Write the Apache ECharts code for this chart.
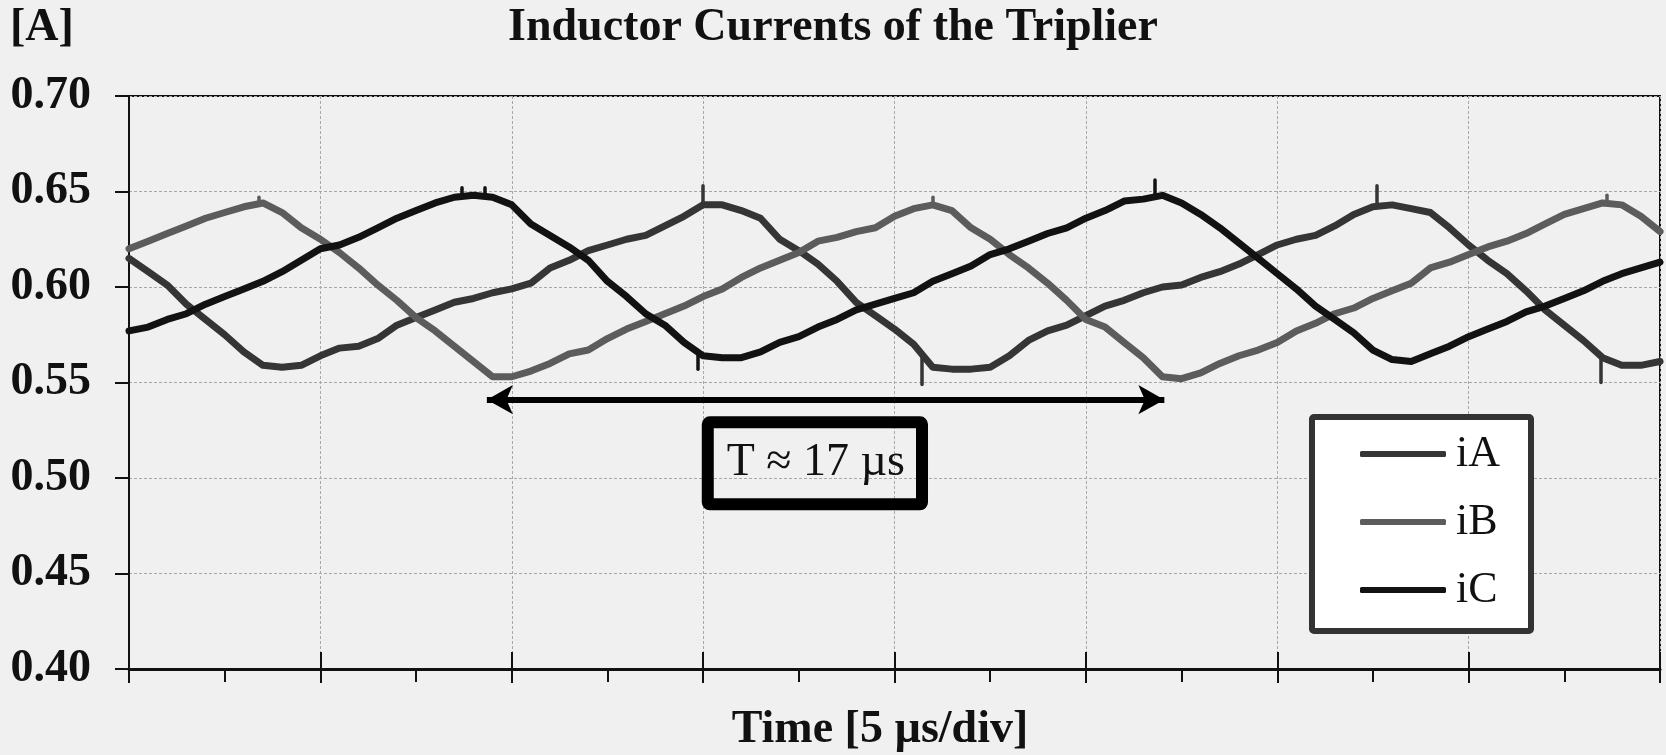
<!DOCTYPE html>
<html><head><meta charset="utf-8">
<script src="https://cdn.jsdelivr.net/npm/echarts@6/dist/echarts.min.js"></script>
<style>html,body{margin:0;padding:0;background:#f0f0f0;}#c{width:1666px;height:755px;}</style>
</head><body><div id="c"></div>
<script>
const chartTitle = 'Inductor Currents of the Triplier';
const yUnit = '[A]';
const xTitle = 'Time [5 µs/div]';
const periodLabel = 'T ≈ 17 µs';
const seriesNames = ['iA', 'iB', 'iC'];
const seriesColors = ['#353535', '#5c5c5c', '#121212'];
// time in µs (5 µs per division, 8 divisions)
const time = [0,0.5,1,1.5,2,2.5,3,3.5,4,4.5,5,5.5,6,6.5,7,7.5,8,8.5,9,9.5,10,10.5,11,11.5,12,12.5,13,13.5,14,14.5,15,15.5,16,16.5,17,17.5,18,18.5,19,19.5,20,20.5,21,21.5,22,22.5,23,23.5,24,24.5,25,25.5,26,26.5,27,27.5,28,28.5,29,29.5,30,30.5,31,31.5,32,32.5,33,33.5,34,34.5,35,35.5,36,36.5,37,37.5,38,38.5,39,39.5,40];
const iA = [0.615,0.608,0.601,0.591,0.583,0.575,0.566,0.559,0.558,0.559,0.564,0.568,0.569,0.573,0.580,0.584,0.588,0.592,0.594,0.597,0.599,0.602,0.610,0.614,0.619,0.622,0.625,0.627,0.632,0.637,0.643,0.643,0.640,0.636,0.625,0.619,0.612,0.603,0.592,0.585,0.578,0.570,0.558,0.557,0.557,0.558,0.564,0.572,0.577,0.580,0.585,0.590,0.593,0.597,0.600,0.601,0.605,0.608,0.612,0.617,0.622,0.625,0.627,0.632,0.638,0.642,0.643,0.641,0.639,0.631,0.622,0.614,0.607,0.598,0.588,0.580,0.572,0.563,0.559,0.559,0.561];
const iB = [0.620,0.624,0.628,0.632,0.636,0.639,0.642,0.644,0.639,0.631,0.625,0.618,0.610,0.601,0.593,0.584,0.577,0.569,0.561,0.553,0.553,0.556,0.560,0.565,0.567,0.573,0.578,0.582,0.586,0.590,0.595,0.599,0.605,0.610,0.614,0.618,0.624,0.626,0.629,0.631,0.637,0.641,0.643,0.640,0.631,0.625,0.617,0.610,0.602,0.593,0.583,0.579,0.571,0.563,0.553,0.552,0.555,0.560,0.564,0.567,0.571,0.577,0.581,0.586,0.589,0.594,0.598,0.602,0.610,0.613,0.617,0.621,0.624,0.628,0.633,0.638,0.641,0.644,0.643,0.637,0.629];
const iC = [0.577,0.579,0.583,0.586,0.591,0.595,0.599,0.603,0.608,0.614,0.620,0.622,0.626,0.631,0.636,0.640,0.644,0.647,0.648,0.647,0.643,0.633,0.627,0.621,0.614,0.603,0.595,0.586,0.580,0.571,0.564,0.563,0.563,0.566,0.571,0.574,0.579,0.583,0.588,0.591,0.594,0.597,0.603,0.607,0.611,0.617,0.620,0.624,0.628,0.631,0.636,0.640,0.645,0.646,0.648,0.644,0.638,0.631,0.623,0.615,0.607,0.599,0.590,0.583,0.576,0.567,0.562,0.561,0.565,0.569,0.574,0.578,0.582,0.587,0.590,0.594,0.598,0.603,0.607,0.610,0.613];
// short switching spikes: [time µs, level A, spike tip A]
const iASpikes = [[15.0, 0.643, 0.653], [20.7, 0.563, 0.549], [32.6, 0.643, 0.653], [38.45, 0.563, 0.550]];
const iBSpikes = [[3.4, 0.643, 0.647], [21.0, 0.643, 0.647], [38.6, 0.644, 0.648]];
const iCSpikes = [[8.7, 0.647, 0.652], [9.3, 0.648, 0.652], [14.85, 0.565, 0.557], [26.8, 0.648, 0.656]];
// period annotation (data units)
const periodArrow = [[9.35, 0.541], [27.05, 0.541]];
const periodLabelAt = [17.92, 0.5077];

const serif = '"Liberation Serif", "Times New Roman", serif';
const values = [iA, iB, iC];
const spikes = [iASpikes, iBSpikes, iCSpikes];

const series = seriesNames.map((name, k) => ({
  name: name,
  type: 'line',
  data: time.map((t, i) => [t, values[k][i]]),
  symbol: 'none',
  silent: true,
  lineStyle: { color: seriesColors[k], width: 7, join: 'round', cap: 'round' },
  itemStyle: { color: seriesColors[k] },
  z: 3 + k,
  markLine: {
    silent: true,
    symbol: ['none', 'none'],
    label: { show: false },
    emphasis: { disabled: true },
    lineStyle: { color: seriesColors[k], width: 3.5, type: 'solid', cap: 'round' },
    data: spikes[k].map(s => [{ coord: [s[0], s[1]] }, { coord: [s[0], s[2]] }])
  }
}));

series.push({
  name: 'period',
  type: 'line',
  data: [],
  silent: true,
  z: 7,
  markLine: {
    silent: true,
    symbol: ['arrow', 'arrow'],
    symbolSize: [22, 26],
    label: { show: false },
    lineStyle: { color: '#000', width: 6, type: 'solid' },
    emphasis: { disabled: true },
    data: [[{ coord: periodArrow[0] }, { coord: periodArrow[1] }]]
  },
  markPoint: {
    silent: true,
    symbol: 'rect',
    symbolSize: 1,
    itemStyle: { color: 'rgba(0,0,0,0)' },
    label: {
      show: true, position: 'inside', formatter: periodLabel,
      fontFamily: serif, fontSize: 46, lineHeight: 46, color: '#111',
      borderColor: '#000', borderWidth: 6, borderRadius: 2,
      padding: [22, 17, 14, 19], backgroundColor: 'rgba(0,0,0,0)'
    },
    emphasis: { disabled: true },
    data: [{ coord: periodLabelAt }]
  }
});

const chart = echarts.init(document.getElementById('c'), null, { renderer: 'canvas' });
chart.setOption({
  animation: false,
  backgroundColor: '#f0f0f0',
  title: [
    { text: chartTitle, left: 'center', top: 5, padding: 0,
      textStyle: { fontFamily: serif, fontWeight: 'bold', fontSize: 46, color: '#111' } },
    { text: yUnit, left: 10, top: 5, padding: 0,
      textStyle: { fontFamily: serif, fontWeight: 'bold', fontSize: 46, color: '#111' } }
  ],
  graphic: [{
    type: 'text', x: 880, y: 707, silent: true,
    style: { text: xTitle, font: 'bold 46px ' + serif, fill: '#111', align: 'center', verticalAlign: 'top' }
  }],
  legend: {
    data: seriesNames.map((n, k) => ({ name: n, icon: 'roundRect', itemStyle: { color: seriesColors[k] } })),
    orient: 'vertical',
    left: 1312, top: 417,
    padding: [15, 31, 19, 48],
    itemWidth: 86, itemHeight: 6, itemGap: 24,
    selectedMode: false,
    backgroundColor: '#ffffff',
    borderColor: '#333', borderWidth: 6, borderRadius: 2,
    textStyle: { fontFamily: serif, fontSize: 44, lineHeight: 44, color: '#111', padding: [0, 0, 0, 5] }
  },
  grid: { left: 129, right: 6, top: 96, bottom: 86, show: true, borderColor: '#111', borderWidth: 2, backgroundColor: 'transparent' },
  xAxis: [{
    type: 'value', min: 0, max: 40, interval: 5,
    axisLine: { show: true, lineStyle: { color: '#111', width: 3 } },
    axisTick: { show: true, inside: false, length: 14, lineStyle: { color: '#111', width: 2 } },
    minorTick: { show: true, splitNumber: 2, length: 13, lineStyle: { color: '#111', width: 2 } },
    axisLabel: { show: false },
    splitLine: { show: true, lineStyle: { color: '#a8a8a8', width: 1, type: [3, 2] } }
  }, {
    type: 'value', min: 0, max: 40, interval: 5, position: 'bottom',
    axisLine: { show: false },
    axisTick: { show: true, inside: true, length: 17, lineStyle: { color: '#111', width: 2 } },
    axisLabel: { show: false },
    splitLine: { show: false }
  }],
  yAxis: {
    type: 'value', min: 0.40, max: 0.70, interval: 0.05,
    axisLine: { show: true, lineStyle: { color: '#111', width: 2 } },
    axisTick: { show: true, inside: false, length: 14, lineStyle: { color: '#111', width: 2 } },
    axisLabel: { show: true, margin: 38, formatter: v => v.toFixed(2),
      fontFamily: serif, fontWeight: 'bold', fontSize: 46, color: '#111' },
    splitLine: { show: true, lineStyle: { color: '#a8a8a8', width: 1, type: [3, 2] } }
  },
  series: series
});
</script></body></html>
